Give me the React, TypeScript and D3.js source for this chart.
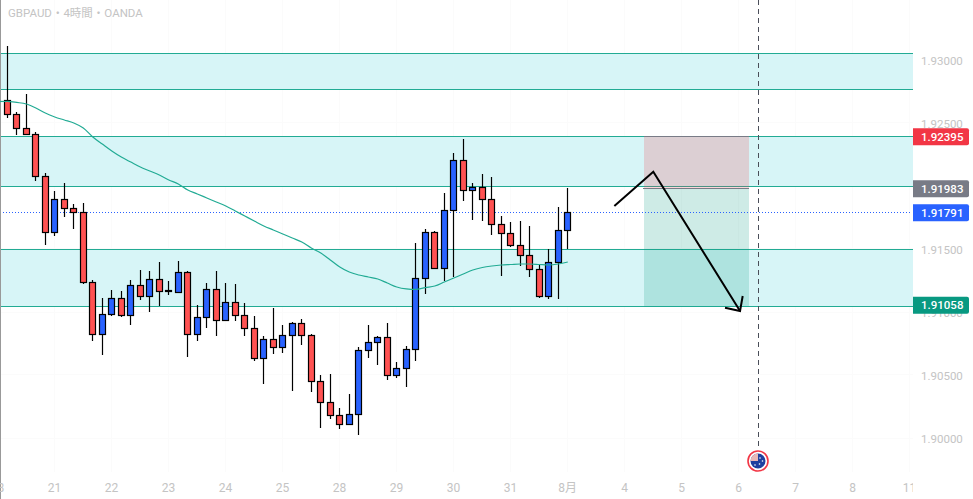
import { FC, useEffect, useRef } from 'react';
import * as d3 from 'd3';

const WIDTH = 973;
const HEIGHT = 499;

const highs = [
  1.93111, 1.92587, 1.9273, 1.92429, 1.92107, 1.9196, 1.92024, 1.91857, 1.91865, 1.91254,
  1.91109, 1.91175, 1.91167, 1.91254, 1.91333, 1.91325, 1.91397, 1.91246, 1.91405, 1.91325,
  1.91056, 1.9123, 1.91325, 1.9123, 1.91222, 1.91071, 1.90968, 1.90807, 1.91032, 1.90897,
  1.90921, 1.90944, 1.90823, 1.905, 1.90508, 1.90238, 1.90349, 1.9072, 1.90897, 1.9081,
  1.90913, 1.90603, 1.90728, 1.91548, 1.91659, 1.91643, 1.91944, 1.92262, 1.92373, 1.92024,
  1.92095, 1.92071, 1.91762, 1.91714, 1.91722, 1.91683, 1.91371, 1.91498, 1.91831, 1.91984,
];
const lows = [
  1.92536, 1.92405, 1.92409, 1.9204, 1.91532, 1.91603, 1.91754, 1.91659, 1.91222, 1.90772,
  1.90661, 1.90971, 1.90963, 1.90899, 1.91098, 1.91002, 1.91048, 1.91133, 1.91156, 1.90645,
  1.90772, 1.90875, 1.90812, 1.90934, 1.90931, 1.90812, 1.90613, 1.90431, 1.90669, 1.90677,
  1.90375, 1.90741, 1.90367, 1.90082, 1.90153, 1.90074, 1.90109, 1.90026, 1.90637, 1.90582,
  1.90463, 1.90479, 1.90407, 1.90613, 1.91145, 1.91347, 1.91244, 1.91275, 1.91883, 1.91733,
  1.91725, 1.91614, 1.91288, 1.91518, 1.91367, 1.9128, 1.91113, 1.91106, 1.91106, 1.91498,
];
const opens = [
  1.92675, 1.92567, 1.92456, 1.92409, 1.92075, 1.91631, 1.91893, 1.91821, 1.9179, 1.91234,
  1.90823, 1.90982, 1.91109, 1.90971, 1.91212, 1.91125, 1.9126, 1.91167, 1.91156, 1.91315,
  1.90823, 1.90958, 1.9118, 1.90934, 1.91077, 1.90974, 1.90871, 1.90633, 1.90783, 1.9072,
  1.90815, 1.9091, 1.90815, 1.9045, 1.90283, 1.9018, 1.90109, 1.90188, 1.90696, 1.9076,
  1.90799, 1.90498, 1.90553, 1.90704, 1.91267, 1.91633, 1.91347, 1.91807, 1.92204, 1.91966,
  1.9199, 1.91894, 1.91696, 1.91625, 1.91529, 1.9145, 1.91339, 1.91125, 1.91394, 1.91648,
];
const closes = [
  1.92567, 1.92456, 1.92409, 1.92075, 1.91631, 1.91893, 1.91821, 1.9179, 1.91234, 1.90823,
  1.90982, 1.91109, 1.90971, 1.91212, 1.91125, 1.9126, 1.91164, 1.91159, 1.91315, 1.90823,
  1.90958, 1.9118, 1.90934, 1.91077, 1.90974, 1.90871, 1.90633, 1.90783, 1.9072, 1.90815,
  1.9091, 1.90815, 1.9045, 1.90283, 1.9018, 1.90109, 1.90188, 1.90696, 1.9076, 1.90799,
  1.90498, 1.90553, 1.90704, 1.91267, 1.91633, 1.91347, 1.91807, 1.92204, 1.91966, 1.9199,
  1.91894, 1.91696, 1.91625, 1.91529, 1.9145, 1.91339, 1.91125, 1.91394, 1.91648, 1.91791,
];
const movingAverage = [
  1.92671, 1.92663, 1.92651, 1.92619, 1.92579, 1.92548, 1.92524, 1.925, 1.9246, 1.92389,
  1.92333, 1.92278, 1.9223, 1.9219, 1.92151, 1.92119, 1.92087, 1.92048, 1.92016, 1.91968,
  1.91937, 1.91905, 1.91873, 1.91841, 1.91802, 1.91762, 1.91722, 1.91683, 1.91651, 1.91619,
  1.91587, 1.91556, 1.91508, 1.91468, 1.91413, 1.91357, 1.91317, 1.91294, 1.91278, 1.91262,
  1.9123, 1.91198, 1.91183, 1.91179, 1.91194, 1.91206, 1.91238, 1.9127, 1.91302, 1.91333,
  1.91353, 1.91365, 1.91373, 1.91377, 1.91381, 1.91381, 1.91377, 1.91373, 1.91381, 1.91397,
];

const priceTicks = [1.93, 1.925, 1.92, 1.915, 1.91, 1.905, 1.9];
const dateTickIndex = [-1, 5, 11, 17, 23, 29, 35, 41, 47, 53, 59, 65, 71, 77, 83, 89, 95];
const dateTickLabels = ['18', '21', '22', '23', '24', '25', '28', '29', '30', '31', '8月', '4', '5', '6', '7', '8', '11'];

const zoneTops = [1.93053, 1.92394, 1.91498];
const zoneBottoms = [1.92767, 1.91998, 1.91045];

const priceTags = [
  { value: 1.92395, color: '#f23645' },
  { value: 1.91983, color: '#787b86' },
  { value: 1.91791, color: '#2962ff' },
  { value: 1.91058, color: '#089981' },
];

// position tool: entry, stop, target and its bar range
const entryPrice = 1.91983;
const stopPrice = 1.92395;
const targetPrice = 1.91045;
const toolStart = 67.02;
const toolEnd = 78.07;

// hand drawn arrow as [bar index, price]
const arrowPath: [number, number][] = [
  [63.9, 1.91841],
  [68, 1.92113],
  [77.13, 1.91008],
];
const arrowBarbs: [number, number][] = [
  [75.55, 1.91034],
  [77.13, 1.91008],
  [77.41, 1.91127],
];
const eventIndex = 79.1;

const TITLE = 'GBPAUD・4時間・OANDA';
const UP = '#2962ff';
const DOWN = '#ff5252';
const TEAL = '#22ab94';

// snap to the pixel grid so 1px strokes stay sharp
const crisp = (v: number) => Math.floor(v) + 0.5;

const App: FC = () => {
  const svgRef = useRef<SVGSVGElement>(null);

  useEffect(() => {
    if (!svgRef.current) return;

    d3.select(svgRef.current).selectAll('*').remove();
    d3.select(document.body).style('margin', 0);

    const plotRight = 913;
    const svg = d3.select(svgRef.current);

    const x = d3.scaleLinear().domain([0, 59]).range([7.3, 567.8]);
    const y = d3.scaleLinear().domain([1.93, 1.9]).range([60, 438]);

    const defs = svg.append('defs');
    defs.append('clipPath').attr('id', 'plot-clip')
      .append('rect').attr('x', 0).attr('y', 0).attr('width', plotRight).attr('height', HEIGHT);

    svg.append('rect').attr('width', WIDTH).attr('height', HEIGHT).attr('fill', '#ffffff');

    // faint grid
    const grid = svg.append('g').attr('stroke', '#fbfbfb');
    dateTickIndex.forEach(i => {
      grid.append('line').attr('x1', crisp(x(i))).attr('x2', crisp(x(i))).attr('y1', 0).attr('y2', 472);
    });
    priceTicks.forEach(p => {
      grid.append('line').attr('x1', 0).attr('x2', plotRight).attr('y1', crisp(y(p))).attr('y2', crisp(y(p)));
    });

    // support / resistance zones
    zoneTops.forEach((top, i) => {
      svg.append('rect')
        .attr('x', 0)
        .attr('y', crisp(y(top)))
        .attr('width', plotRight)
        .attr('height', crisp(y(zoneBottoms[i])) - crisp(y(top)))
        .attr('fill', '#d7f5f7');
      [top, zoneBottoms[i]].forEach(p => {
        svg.append('line')
          .attr('x1', 0).attr('x2', plotRight)
          .attr('y1', crisp(y(p))).attr('y2', crisp(y(p)))
          .attr('stroke', TEAL).attr('stroke-width', 1);
      });
    });

    // long/short position tool
    const toolLeft = Math.round(x(toolStart));
    const toolRight = Math.round(x(toolEnd));
    svg.append('rect')
      .attr('x', toolLeft).attr('y', crisp(y(stopPrice)))
      .attr('width', toolRight - toolLeft).attr('height', crisp(y(entryPrice)) - crisp(y(stopPrice)))
      .attr('fill', 'rgba(242,54,69,0.2)');
    svg.append('rect')
      .attr('x', toolLeft).attr('y', crisp(y(entryPrice)))
      .attr('width', toolRight - toolLeft).attr('height', crisp(y(targetPrice)) - crisp(y(entryPrice)))
      .attr('fill', 'rgba(8,153,129,0.2)');
    [stopPrice, entryPrice].forEach(p => {
      svg.append('line')
        .attr('x1', toolLeft - (p === entryPrice ? 1 : 0)).attr('x2', toolRight)
        .attr('y1', crisp(y(p))).attr('y2', crisp(y(p)))
        .attr('stroke', '#787b86').attr('stroke-width', 1);
    });

    // last price line
    svg.append('line')
      .attr('x1', 0).attr('x2', plotRight - 3)
      .attr('y1', crisp(y(1.91791))).attr('y2', crisp(y(1.91791)))
      .attr('stroke', UP).attr('stroke-width', 1).attr('stroke-dasharray', '1 2');

    // left edge and event line
    svg.append('line')
      .attr('x1', 0.5).attr('x2', 0.5).attr('y1', 0).attr('y2', HEIGHT)
      .attr('stroke', '#999999').attr('stroke-width', 1);
    svg.append('line')
      .attr('x1', crisp(x(eventIndex))).attr('x2', crisp(x(eventIndex)))
      .attr('y1', 0).attr('y2', 450)
      .attr('stroke', '#4a4e59').attr('stroke-width', 1).attr('stroke-dasharray', '5 4');

    // candles
    const candles = svg.append('g');
    highs.forEach((high, i) => {
      const top = Math.max(opens[i], closes[i]);
      const bottom = Math.min(opens[i], closes[i]);
      const cx = crisp(x(i));
      candles.append('line')
        .attr('x1', cx).attr('x2', cx)
        .attr('y1', Math.round(y(high))).attr('y2', Math.round(y(lows[i])))
        .attr('stroke', '#000000').attr('stroke-width', 1.2);
      candles.append('rect')
        .attr('x', cx - 3)
        .attr('y', crisp(y(top)))
        .attr('width', 6)
        .attr('height', Math.max(crisp(y(bottom)) - crisp(y(top)), 1))
        .attr('fill', closes[i] >= opens[i] ? UP : DOWN)
        .attr('stroke', '#000000')
        .attr('stroke-width', 1.2);
    });

    // moving average
    const maLine = d3.line<number>()
      .x((_, i) => x(i))
      .y(d => y(d))
      .curve(d3.curveMonotoneX);
    svg.append('path')
      .datum(movingAverage)
      .attr('fill', 'none')
      .attr('stroke', TEAL)
      .attr('stroke-width', 1.2)
      .attr('d', maLine);
    svg.append('line')
      .attr('x1', 0).attr('x2', x(0))
      .attr('y1', y(movingAverage[0])).attr('y2', y(movingAverage[0]))
      .attr('stroke', TEAL).attr('stroke-width', 1.2);

    // arrow
    const arrowLine = d3.line<[number, number]>()
      .x(d => x(d[0]))
      .y(d => y(d[1]));
    [arrowPath, arrowBarbs].forEach(points => {
      svg.append('path')
        .datum(points)
        .attr('fill', 'none')
        .attr('stroke', '#000000')
        .attr('stroke-width', 2)
        .attr('d', arrowLine);
    });

    // event marker
    const flag = svg.append('g').attr('transform', `translate(${crisp(x(eventIndex)) - 0.5},461)`);
    flag.append('circle').attr('r', 10).attr('fill', '#ffffff').attr('stroke', '#f23645').attr('stroke-width', 1.6);
    flag.append('circle').attr('r', 7.5).attr('fill', '#1f3f9f');
    flag.append('path').attr('d', d3.arc<any>()({ innerRadius: 0, outerRadius: 7.5, startAngle: -Math.PI / 2, endAngle: 0 }) as string).attr('fill', '#e9b7b7');
    [[2, -3], [4.5, 0], [1.5, 3], [-3, 4]].forEach(([cx, cy]) => {
      flag.append('circle').attr('cx', cx).attr('cy', cy).attr('r', 0.8).attr('fill', '#ffffff');
    });

    // price axis
    const yAxis = svg.append('g')
      .attr('transform', 'translate(913,0.5)')
      .call(d3.axisRight(y).tickValues(priceTicks).tickSize(0).tickPadding(8).tickFormat(d => d3.format('.5f')(d as number)));
    yAxis.select('.domain').remove();
    yAxis.selectAll('text')
      .attr('fill', '#c4c4c4')
      .style('font-family', 'Roboto, sans-serif')
      .style('font-size', '11.5px');

    // time axis
    const xAxis = svg.append('g')
      .attr('clip-path', 'url(#plot-clip)')
      .append('g')
      .attr('transform', 'translate(-0.7,483)')
      .call(d3.axisBottom(x).tickValues(dateTickIndex).tickSize(0).tickPadding(0).tickFormat((_, i) => dateTickLabels[i]));
    xAxis.select('.domain').remove();
    xAxis.selectAll('text')
      .attr('fill', '#c4c4c4')
      .style('font-family', 'Roboto, "Noto Sans CJK JP", sans-serif')
      .style('font-size', '12px');

    // price tags
    priceTags.forEach(tag => {
      const cy = y(tag.value) + 0.5;
      svg.append('path')
        .attr('d', `M913 ${cy - 8.5} H967 a2 2 0 0 1 2 2 V${cy + 6.5} a2 2 0 0 1 -2 2 H913 Z`)
        .attr('fill', tag.color);
      svg.append('text')
        .attr('x', 921).attr('y', cy + 4.2)
        .attr('fill', '#ffffff')
        .style('font-family', 'Roboto, sans-serif')
        .style('font-size', '11.5px')
        .style('font-weight', 500)
        .text(tag.value.toFixed(5));
    });

    // title
    svg.append('text')
      .attr('x', 8).attr('y', 17)
      .attr('fill', '#c4c4c4')
      .style('font-family', 'Roboto, "Noto Sans CJK JP", sans-serif')
      .style('font-size', '11.5px')
      .text(TITLE);
  }, []);

  return (
    <div style={{ width: WIDTH, height: HEIGHT, overflow: 'hidden' }}>
      <svg ref={svgRef} width={WIDTH} height={HEIGHT} style={{ display: 'block' }}></svg>
    </div>
  );
};

export default App;
